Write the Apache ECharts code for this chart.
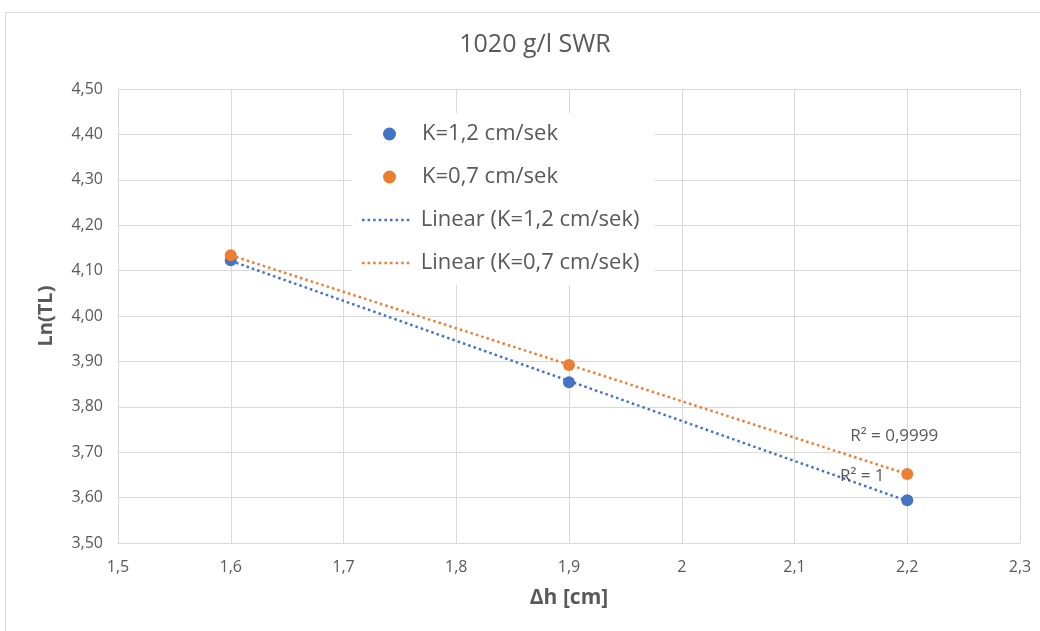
<!DOCTYPE html>
<html>
<head>
<meta charset="utf-8">
<script src="https://cdn.jsdelivr.net/npm/echarts@6/dist/echarts.min.js"></script>
<style>
  html, body { margin: 0; padding: 0; background: #fff; }
  #chart { width: 1040px; height: 631px; }
</style>
</head>
<body>
<div id="chart"></div>
<script>
// Measurements: height difference Δh [cm] vs. ln(TL)
const dh = [1.6, 1.9, 2.2];
const lnTL_k12 = [4.123, 3.854, 3.594];
const lnTL_k07 = [4.134, 3.892, 3.652];
const seriesNames = ['K=1,2 cm/sek', 'K=0,7 cm/sek'];
const trendNames = ['Linear (K=1,2 cm/sek)', 'Linear (K=0,7 cm/sek)'];
const r2Texts = ['R² = 1', 'R² = 0,9999'];

const BLUE = '#4472C4';
const ORANGE = '#ED7D31';
const TXT = '#595959';
const GRID = '#d9d9d9';
const FONT = '"Open Sans", "Noto Sans", sans-serif';

// least-squares fit, evaluated at the ends of the data range
function fitLine(xs, ys) {
  const n = xs.length;
  const mx = xs.reduce((a, b) => a + b, 0) / n;
  const my = ys.reduce((a, b) => a + b, 0) / n;
  let sxy = 0, sxx = 0;
  for (let i = 0; i < n; i++) { sxy += (xs[i] - mx) * (ys[i] - my); sxx += (xs[i] - mx) ** 2; }
  const b = sxy / sxx, a = my - b * mx;
  const x0 = Math.min(...xs), x1 = Math.max(...xs);
  return [[x0, a + b * x0], [x1, a + b * x1]];
}

const pts = (ys) => dh.map((x, i) => [x, ys[i]]);
const comma = (s) => String(s).replace('.', ',');

// row of square dots used as the legend icon of the trend lines
let dotPath = 'path://';
for (let i = 0; i < 9; i++) dotPath += 'M' + (i * 5.6) + ',0h2.5v2.5h-2.5z';

function trendSeries(name, ys, color, r2, offset) {
  const line = fitLine(dh, ys);
  return {
    name: name,
    type: 'line',
    data: line,
    symbol: 'none',
    silent: true,
    z: 2,
    lineStyle: { color: color, width: 2.5, type: [2.5, 3.1] },
    itemStyle: { color: color },
    markPoint: {
      silent: true,
      symbol: 'circle', symbolSize: 0,
      data: [{ coord: line[line.length - 1] }],
      label: {
        show: true, formatter: r2, position: 'inside', offset: offset,
        color: TXT, fontSize: 17, fontFamily: FONT
      }
    }
  };
}

const legendText = { color: TXT, fontSize: 22, fontFamily: FONT, lineHeight: 23, padding: [0, 0, 0, 5] };

const chart = echarts.init(document.getElementById('chart'), null, { renderer: 'canvas' });
chart.setOption({
  animation: false,
  backgroundColor: '#fff',
  title: {
    text: '1020 g/l SWR',
    left: 530, textAlign: 'center', top: 27,
    textStyle: { color: TXT, fontSize: 25, fontWeight: 'normal', fontFamily: FONT }
  },
  graphic: [
    {
      type: 'rect', z: -10,
      shape: { x: 5.5, y: 12.5, width: 1040, height: 625 },
      style: { fill: 'none', stroke: GRID, lineWidth: 1 }
    },
    {
      type: 'rect', z: 3,
      shape: { x: 352, y: 113, width: 303, height: 172 },
      style: { fill: '#fff' }
    }
  ],
  grid: { left: 118, right: 20, top: 89, bottom: 88 },
  legend: [
    {
      orient: 'vertical', left: 383, top: 122.5, padding: 0,
      itemWidth: 13, itemHeight: 13, itemGap: 20,
      textStyle: Object.assign({}, legendText, { padding: [0, 0, 0, 21] }),
      data: [
        { name: seriesNames[0], icon: 'circle' },
        { name: seriesNames[1], icon: 'circle' }
      ]
    },
    {
      orient: 'vertical', left: 362, top: 208.5, padding: 0,
      itemWidth: 50, itemHeight: 2.5, itemGap: 20,
      textStyle: legendText,
      data: [
        { name: trendNames[0], icon: dotPath },
        { name: trendNames[1], icon: dotPath }
      ]
    }
  ],
  xAxis: {
    type: 'value', min: 1.5, max: 2.3, interval: 0.1,
    name: 'Δh [cm]', nameLocation: 'middle', nameGap: 45,
    nameTextStyle: { color: TXT, fontSize: 21, fontWeight: 'bold', fontFamily: FONT },
    axisLine: { show: true, lineStyle: { color: GRID } },
    axisTick: { show: false },
    axisLabel: {
      color: TXT, fontSize: 16, fontFamily: FONT, margin: 16,
      formatter: (v) => comma(Math.round(v * 10) / 10)
    },
    splitLine: { show: true, lineStyle: { color: GRID } }
  },
  yAxis: {
    type: 'value', min: 3.5, max: 4.5, interval: 0.1,
    name: 'Ln(TL)', nameLocation: 'middle', nameGap: 62, nameRotate: 90,
    nameTextStyle: { color: TXT, fontSize: 20, fontWeight: 'bold', fontFamily: FONT },
    axisLine: { show: false },
    axisTick: { show: false },
    axisLabel: {
      color: TXT, fontSize: 16, fontFamily: FONT, margin: 15,
      formatter: (v) => comma(v.toFixed(2))
    },
    splitLine: { show: true, lineStyle: { color: GRID } }
  },
  series: [
    trendSeries(trendNames[0], lnTL_k12, BLUE, r2Texts[0], [-45, -25]),
    trendSeries(trendNames[1], lnTL_k07, ORANGE, r2Texts[1], [-13, -38]),
    {
      name: seriesNames[0], type: 'scatter', data: pts(lnTL_k12),
      symbol: 'circle', symbolSize: 12, z: 3,
      itemStyle: { color: BLUE, opacity: 1 }
    },
    {
      name: seriesNames[1], type: 'scatter', data: pts(lnTL_k07),
      symbol: 'circle', symbolSize: 12, z: 4,
      itemStyle: { color: ORANGE, opacity: 1 }
    }
  ]
});
</script>
</body>
</html>
